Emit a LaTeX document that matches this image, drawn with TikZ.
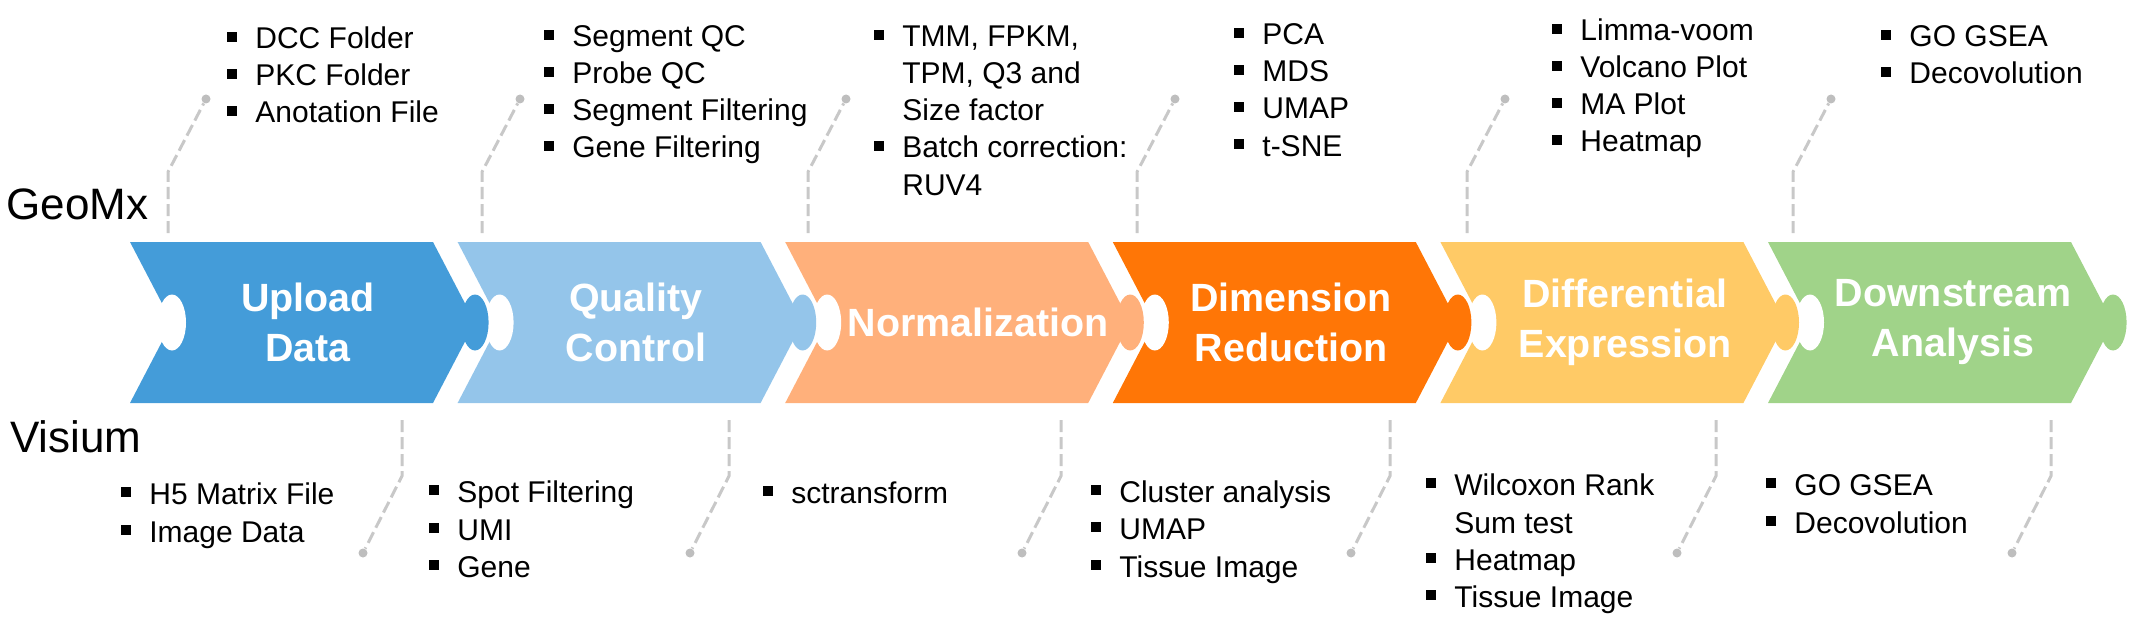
\documentclass[tikz,border=0pt]{standalone}
\usepackage{fontspec}
\setmainfont{Liberation Sans}
\definecolor{cA}{RGB}{68,156,217}
\definecolor{cB}{RGB}{148,197,234}
\definecolor{cC}{RGB}{255,176,123}
\definecolor{cD}{RGB}{255,118,6}
\definecolor{cE}{RGB}{255,202,102}
\definecolor{cF}{RGB}{160,211,137}
\definecolor{dashgrey}{RGB}{200,200,200}
\definecolor{dotgrey}{RGB}{190,190,190}
\newcommand\bsq{\llap{\rule[3.6pt]{4.8pt}{4.8pt}\hspace{9.3pt}}}
\begin{document}
\begin{tikzpicture}[x=0.5pt,y=-0.5pt,
  conn/.style={draw=dashgrey, line width=1.5pt, dash pattern=on 6pt off 2.5pt},
  dotnode/.style={circle, fill=dotgrey, inner sep=0pt, minimum size=4.5pt},
  lab/.style={text=white, font=\fontsize{19.7}{25}\selectfont\bfseries, align=center, inner sep=0pt},
  item/.style={anchor=base west, inner sep=0pt, font=\fontsize{15}{18}\selectfont},
  side/.style={anchor=base west, inner sep=0pt, font=\fontsize{22}{26}\selectfont}]
\useasboundingbox (0,0) rectangle (2132,626);
% chevrons
\foreach \L/\c in {130/cA, 457.6/cB, 785.2/cC, 1112.8/cD, 1440.4/cE, 1768/cF} {
  \fill[\c] (\L,242) -- ++(303,0) -- ++(42,80.5) -- ++(-42,80.5) -- ++(-303,0) -- ++(42,-80.5) -- cycle;
}
% holes
\foreach \L in {130, 457.6, 785.2, 1112.8, 1440.4, 1768} {
  \fill[white] (\L+42,322.5) ellipse [x radius=7pt, y radius=14pt];
}
% tabs
\foreach \L/\c in {130/cA, 457.6/cB, 785.2/cC, 1112.8/cD, 1440.4/cE, 1768/cF} {
  \fill[\c] (\L+345,322.5) ellipse [x radius=6.8pt, y radius=14pt];
}
% labels
\node[lab] (lUp) at (308,322.5) {Upload\\Data};
\node[lab] (lQC) at (636,322.5) {Quality\\Control};
\node[lab] (lNo) at (978,322.5) {Normalization};
\node[lab] (lDi) at (1291,322.5) {Dimension\\Reduction};
\node[lab] (lDE) at (1625,322.5) {Differential\\Expression};
\node[lab] (lDS) at (1953,322.5) {Downstream\\Analysis};
% side labels
\node[side] (geo) at (6,220) {GeoMx};
\node[side] (vis) at (10,452) {Visium};
% top lists
\node[item] (t1a) at (255,49) {\bsq DCC Folder};
\node[item] (t1b) at (255,86) {\bsq PKC Folder};
\node[item] (t1c) at (255,123) {\bsq Anotation File};
\node[item] (t2a) at (572,47) {\bsq Segment QC};
\node[item] (t2b) at (572,84) {\bsq Probe QC};
\node[item] (t2c) at (572,121) {\bsq Segment Filtering};
\node[item] (t2d) at (572,158) {\bsq Gene Filtering};
\node[item] (t3a) at (902,47) {\bsq TMM, FPKM,};
\node[item] (t3b) at (902,84) {TPM, Q3 and};
\node[item] (t3c) at (902,121) {Size factor};
\node[item] (t3d) at (902,158) {\bsq Batch correction:};
\node[item] (t3e) at (902,195) {RUV4};
\node[item] (t4a) at (1262,45) {\bsq PCA};
\node[item] (t4b) at (1262,82) {\bsq MDS};
\node[item] (t4c) at (1262,119) {\bsq UMAP};
\node[item] (t4d) at (1262,156) {\bsq t-SNE};
\node[item] (t5a) at (1580,41) {\bsq Limma-voom};
\node[item] (t5b) at (1580,78) {\bsq Volcano Plot};
\node[item] (t5c) at (1580,115) {\bsq MA Plot};
\node[item] (t5d) at (1580,152) {\bsq Heatmap};
\node[item] (t6a) at (1909,47) {\bsq GO GSEA};
\node[item] (t6b) at (1909,84) {\bsq Decovolution};
% bottom lists
\node[item] (b1a) at (149,504) {\bsq H5 Matrix File};
\node[item] (b1b) at (149,542) {\bsq Image Data};
\node[item] (b2a) at (457,502) {\bsq Spot Filtering};
\node[item] (b2b) at (457,540) {\bsq UMI};
\node[item] (b2c) at (457,577) {\bsq Gene};
\node[item] (b3a) at (791,503) {\bsq sctransform};
\node[item] (b4a) at (1119,502) {\bsq Cluster analysis};
\node[item] (b4b) at (1119,539) {\bsq UMAP};
\node[item] (b4c) at (1119,577) {\bsq Tissue Image};
\node[item] (b5a) at (1454,495) {\bsq Wilcoxon Rank};
\node[item] (b5b) at (1454,533) {Sum test};
\node[item] (b5c) at (1454,570) {\bsq Heatmap};
\node[item] (b5d) at (1454,607) {\bsq Tissue Image};
\node[item] (b6a) at (1794,495) {\bsq GO GSEA};
\node[item] (b6b) at (1794,533) {\bsq Decovolution};
% top connectors
\foreach \i/\x in {1/168,2/482,3/808,4/1137,5/1467,6/1793} {
  \coordinate (ts\i) at (\x,233);
  \coordinate (tk\i) at (\x,172);
  \node[dotnode] (td\i) at (\x+38,99) {};
  \draw[conn] (ts\i) -- (tk\i) -- (td\i);
}
% bottom connectors
\foreach \i/\x in {1/402,2/729,3/1061,4/1390,5/1716,6/2051} {
  \coordinate (bs\i) at (\x,420);
  \coordinate (bk\i) at (\x,476);
  \node[dotnode] (bd\i) at (\x-39,553) {};
  \draw[conn] (bs\i) -- (bk\i) -- (bd\i);
}
\end{tikzpicture}
\end{document}
